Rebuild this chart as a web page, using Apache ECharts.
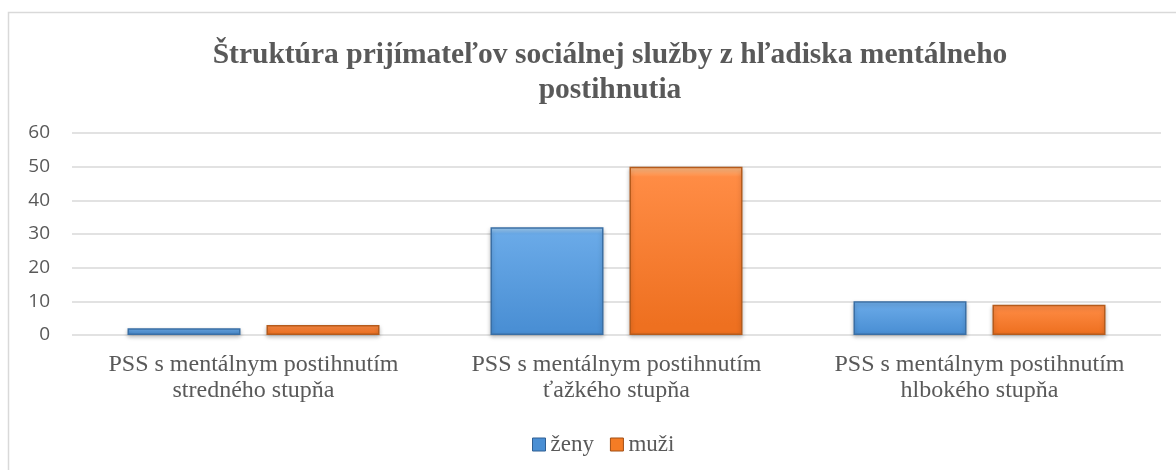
<!DOCTYPE html>
<html>
<head>
<meta charset="utf-8">
<script src="https://cdn.jsdelivr.net/npm/echarts@6/dist/echarts.min.js"></script>
<style>
  html, body { margin: 0; padding: 0; background: #fff; }
  #chart { width: 1176px; height: 470px; }
</style>
</head>
<body>
<div id="chart"></div>
<script>
var chart = echarts.init(document.getElementById('chart'));

var categories = [
    'PSS s mentálnym postihnutím\nstredného stupňa',
    'PSS s mentálnym postihnutím\nťažkého stupňa',
    'PSS s mentálnym postihnutím\nhlbokého stupňa'
];
var zeny = [2, 32, 10];
var muzi = [3, 50, 9];
var yTicks = [0, 10, 20, 30, 40, 50, 60];

var serif = '"Liberation Serif", "Times New Roman", serif';

function grad(top, mid, bottom) {
    return new echarts.graphic.LinearGradient(0, 0, 0, 1, [
        { offset: 0, color: top },
        { offset: 0.06, color: mid },
        { offset: 0.94, color: bottom },
        { offset: 1, color: bottom }
    ]);
}

option = {
    animation: false,
    title: {
        text: 'Štruktúra prijímateľov sociálnej služby z hľadiska mentálneho\npostihnutia',
        left: 605,
        textAlign: 'center',
        top: 33,
        textStyle: {
            fontFamily: serif,
            fontWeight: 'bold',
            fontSize: 29.5,
            lineHeight: 35,
            color: '#595959'
        }
    },
    graphic: [{
        type: 'rect',
        shape: { x: 8.5, y: 12.5, width: 1200, height: 500 },
        style: { fill: 'none', stroke: '#d9d9d9', lineWidth: 1.5 },
        silent: true
    }],
    legend: {
        top: 428,
        left: 527,
        itemWidth: 13,
        itemHeight: 13,
        itemGap: 16,
        textStyle: { fontFamily: serif, fontSize: 23, color: '#595959' },
        data: [
            { name: 'ženy', icon: 'rect', itemStyle: { color: '#4a8fd4', borderColor: '#2f5f93', borderWidth: 1 } },
            { name: 'muži', icon: 'rect', itemStyle: { color: '#f47c25', borderColor: '#a14f14', borderWidth: 1 } }
        ]
    },
    grid: {
        left: 72,
        right: 15,
        top: 133,
        bottom: 135
    },
    xAxis: {
        type: 'category',
        data: categories,
        axisLine: { show: false },
        axisTick: { show: false },
        axisLabel: {
            interval: 0,
            fontFamily: serif,
            fontSize: 24,
            lineHeight: 26,
            color: '#595959',
            margin: 17
        }
    },
    yAxis: {
        type: 'value',
        min: yTicks[0],
        max: yTicks[yTicks.length - 1],
        interval: 10,
        axisLine: { show: false },
        axisTick: { show: false },
        splitLine: { lineStyle: { color: '#d9d9d9', width: 1.5 } },
        axisLabel: {
            fontFamily: '"Open Sans", "Liberation Sans", sans-serif',
            fontSize: 19,
            color: '#595959',
            margin: 22
        }
    },
    series: [
        {
            name: 'ženy',
            type: 'bar',
            data: zeny,
            barWidth: 113,
            barGap: '23%',
            itemStyle: {
                color: grad('#a9d4f7', '#6aaae8', '#4a8fd4'),
                borderColor: '#3a6fa5',
                borderWidth: 1.5,
                shadowColor: 'rgba(0,0,0,0.25)',
                shadowBlur: 4,
                shadowOffsetY: 2
            }
        },
        {
            name: 'muži',
            type: 'bar',
            data: muzi,
            barWidth: 113,
            itemStyle: {
                color: grad('#ffc08a', '#ff8c45', '#ee7020'),
                borderColor: '#b55b1c',
                borderWidth: 1.5,
                shadowColor: 'rgba(0,0,0,0.25)',
                shadowBlur: 4,
                shadowOffsetY: 2
            }
        }
    ]
};

chart.setOption(option);
</script>
</body>
</html>
